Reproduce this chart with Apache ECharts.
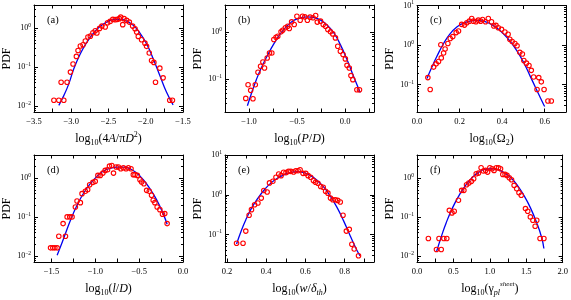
<!DOCTYPE html>
<html><head><meta charset="utf-8">
<script src="https://cdn.jsdelivr.net/npm/echarts@6/dist/echarts.min.js"></script>
<style>html,body{margin:0;padding:0;background:#fff}#c{width:571px;height:300px}</style>
</head><body><div id="c"></div>
<script>
// ---------- data: [log10 x, PDF] ----------
const ptsA = [[-3.233,0.0141],[-3.167,0.0141],[-3.100,0.0141],[-3.136,0.041],[-3.056,0.041],[-3.011,0.0745],[-2.976,0.12],[-2.931,0.188],[-2.909,0.267],[-2.878,0.347],[-2.842,0.374],[-2.811,0.465],[-2.776,0.59],[-2.744,0.62],[-2.709,0.76],[-2.678,0.855],[-2.656,0.745],[-2.62,0.98],[-2.589,1.12],[-2.544,1.06],[-2.513,1.37],[-2.478,1.48],[-2.442,1.67],[-2.411,1.64],[-2.38,1.67],[-2.353,1.74],[-2.336,1.9],[-2.309,1.22],[-2.291,1.74],[-2.256,1.57],[-2.22,1.42],[-2.176,1.12],[-2.144,0.96],[-2.122,0.79],[-2.1,0.61],[-2.056,0.5],[-2.011,0.41],[-1.989,0.34],[-1.953,0.23],[-1.922,0.148],[-1.891,0.132],[-1.869,0.041],[-1.811,0.094],[-1.767,0.053],[-1.678,0.0141],[-1.642,0.0141]];
const fitA = [[-3.167,0.0105],[-3.1,0.0186],[-3.033,0.0372],[-2.967,0.0891],[-2.878,0.22],[-2.789,0.438],[-2.7,0.745],[-2.611,1.104],[-2.522,1.426],[-2.433,1.637],[-2.344,1.667],[-2.256,1.51],[-2.167,1.17],[-2.078,0.745],[-1.989,0.396],[-1.9,0.164],[-1.811,0.0611],[-1.722,0.0229],[-1.633,0.0108]];

const ptsB = [[-1.034,0.0388],[-1.01,0.0756],[-0.983,0.0574],[-0.959,0.0382],[-0.935,0.0756],[-0.907,0.139],[-0.88,0.186],[-0.856,0.23],[-0.839,0.171],[-0.811,0.28],[-0.787,0.357],[-0.763,0.357],[-0.742,0.687],[-0.719,0.77],[-0.701,0.81],[-0.667,1.0],[-0.65,1.085],[-0.622,1.22],[-0.598,1.32],[-0.581,1.18],[-0.557,1.63],[-0.53,1.43],[-0.502,2.15],[-0.468,1.77],[-0.444,2.15],[-0.42,2.08],[-0.393,1.77],[-0.365,2.05],[-0.334,1.99],[-0.307,2.23],[-0.29,1.61],[-0.256,1.69],[-0.228,1.43],[-0.204,1.32],[-0.18,1.12],[-0.153,1.0],[-0.129,0.906],[-0.101,0.745],[-0.077,0.495],[-0.05,0.388],[-0.022,0.33],[0.002,0.267],[0.019,0.195],[0.043,0.171],[0.06,0.118],[0.08,0.097],[0.122,0.059],[0.149,0.059]];
const fitB = [[-1.017,0.0271],[-0.976,0.0488],[-0.924,0.0968],[-0.873,0.171],[-0.804,0.33],[-0.736,0.583],[-0.667,0.953],[-0.599,1.365],[-0.53,1.77],[-0.461,1.986],[-0.393,2.084],[-0.324,2.018],[-0.256,1.77],[-0.187,1.387],[-0.118,0.953],[-0.05,0.537],[0.019,0.258],[0.087,0.114],[0.156,0.052]];

const ptsC = [[0.051,0.151],[0.062,0.0758],[0.078,0.278],[0.09,0.336],[0.101,0.385],[0.114,0.475],[0.112,1.02],[0.125,0.63],[0.132,0.795],[0.145,1.1],[0.156,1.47],[0.168,1.64],[0.184,2.07],[0.195,2.27],[0.21,3.33],[0.223,3.2],[0.234,3.66],[0.246,4.03],[0.257,4.7],[0.265,4.03],[0.277,3.88],[0.288,4.27],[0.299,4.03],[0.308,4.44],[0.322,3.88],[0.335,4.7],[0.35,3.88],[0.361,3.03],[0.371,3.15],[0.382,2.75],[0.397,2.5],[0.413,2.15],[0.428,1.88],[0.436,1.41],[0.447,1.23],[0.46,1.1],[0.47,0.963],[0.483,0.656],[0.495,0.597],[0.502,0.407],[0.514,0.35],[0.526,0.306],[0.537,0.23],[0.548,0.157],[0.564,0.0758],[0.572,0.151],[0.584,0.118],[0.597,0.0758],[0.615,0.0388],[0.631,0.0388]];
const fitC = [[0.047,0.1426],[0.07,0.278],[0.093,0.513],[0.125,1.099],[0.156,1.95],[0.187,2.864],[0.218,3.597],[0.249,4.036],[0.28,4.188],[0.312,4.036],[0.343,3.459],[0.374,2.754],[0.405,1.95],[0.436,1.282],[0.467,0.752],[0.498,0.392],[0.53,0.172],[0.561,0.0759],[0.592,0.034],[0.6,0.0281]];

const ptsD = [[-1.511,0.0163],[-1.485,0.0163],[-1.462,0.0163],[-1.436,0.0163],[-1.417,0.0324],[-1.368,0.0682],[-1.341,0.0324],[-1.322,0.101],[-1.292,0.101],[-1.266,0.101],[-1.228,0.182],[-1.209,0.259],[-1.171,0.234],[-1.152,0.398],[-1.114,0.457],[-1.088,0.504],[-1.065,0.676],[-1.028,0.775],[-1.001,0.822],[-0.971,1.17],[-0.944,1.17],[-0.914,1.34],[-0.888,1.57],[-0.861,1.63],[-0.839,2.02],[-0.812,2.1],[-0.793,1.34],[-0.763,1.91],[-0.737,1.91],[-0.71,1.73],[-0.68,1.84],[-0.65,1.73],[-0.623,1.84],[-0.593,1.73],[-0.567,1.22],[-0.548,1.22],[-0.521,1.17],[-0.491,0.906],[-0.472,0.79],[-0.446,0.717],[-0.415,0.484],[-0.385,0.457],[-0.359,0.361],[-0.34,0.269],[-0.321,0.234],[-0.295,0.182],[-0.264,0.155],[-0.234,0.118],[-0.208,0.123],[-0.181,0.0682]];
const fitD = [[-1.436,0.0106],[-1.398,0.0173],[-1.341,0.0379],[-1.284,0.083],[-1.209,0.2],[-1.133,0.414],[-1.058,0.716],[-0.982,1.104],[-0.907,1.51],[-0.831,1.766],[-0.756,1.91],[-0.68,1.91],[-0.604,1.73],[-0.529,1.343],[-0.453,0.906],[-0.378,0.535],[-0.302,0.28],[-0.227,0.1227],[-0.181,0.0656]];

const ptsE = [[0.249,0.0603],[0.282,0.0603],[0.296,0.122],[0.313,0.306],[0.325,0.423],[0.341,0.563],[0.358,0.621],[0.375,0.826],[0.388,1.28],[0.405,1.17],[0.417,1.99],[0.434,2.19],[0.45,2.75],[0.464,3.33],[0.476,3.03],[0.489,3.67],[0.501,3.6],[0.514,3.88],[0.526,3.88],[0.54,3.74],[0.551,4.03],[0.563,4.03],[0.573,4.27],[0.588,3.46],[0.602,3.46],[0.614,3.03],[0.627,2.75],[0.641,2.27],[0.652,2.07],[0.664,1.95],[0.678,1.61],[0.691,1.55],[0.703,1.23],[0.715,1.1],[0.728,0.826],[0.74,0.751],[0.753,0.751],[0.765,0.723],[0.778,0.657],[0.792,0.306],[0.809,0.122],[0.824,0.135],[0.837,0.0569],[0.849,0.0435],[0.871,0.0292]];
const fitE = [[0.249,0.0579],[0.274,0.129],[0.299,0.252],[0.324,0.448],[0.358,0.826],[0.392,1.358],[0.425,1.991],[0.459,2.649],[0.493,3.206],[0.526,3.664],[0.56,3.811],[0.593,3.597],[0.627,3.027],[0.661,2.275],[0.694,1.552],[0.728,0.91],[0.762,0.474],[0.795,0.221],[0.829,0.0918],[0.862,0.0411],[0.879,0.0292]];

const ptsF = [[0.156,0.0283],[0.267,0.0148],[0.302,0.0283],[0.333,0.0148],[0.369,0.0283],[0.409,0.0283],[0.444,0.149],[0.48,0.128],[0.511,0.141],[0.569,0.269],[0.613,0.484],[0.644,0.484],[0.68,0.676],[0.711,0.745],[0.747,0.822],[0.778,0.962],[0.813,1.29],[0.844,1.34],[0.88,1.84],[0.911,1.51],[0.942,1.57],[0.969,1.42],[1.0,1.84],[1.031,1.73],[1.058,1.57],[1.089,1.84],[1.12,1.84],[1.147,1.73],[1.178,1.24],[1.209,1.24],[1.236,1.17],[1.267,1.02],[1.298,0.906],[1.333,0.65],[1.369,0.534],[1.4,0.422],[1.431,0.361],[1.489,0.165],[1.52,0.141],[1.556,0.101],[1.591,0.083],[1.622,0.0583],[1.644,0.083],[1.689,0.0283],[1.742,0.0283]];
const fitF = [[0.267,0.0129],[0.333,0.0312],[0.4,0.071],[0.489,0.175],[0.578,0.3606],[0.667,0.65],[0.756,1.021],[0.844,1.396],[0.933,1.663],[1.022,1.73],[1.111,1.633],[1.2,1.368],[1.289,1.021],[1.378,0.65],[1.467,0.3606],[1.556,0.175],[1.644,0.071],[1.711,0.03],[1.742,0.0157]];

// ---------- ticks / labels ----------
const ticksA = [-3.5,-3.25,-3,-2.75,-2.5,-2.25,-2,-1.75,-1.5], labelsA = [-3.5,-3,-2.5,-2,-1.5];
const ticksB = [-1.25,-1,-0.75,-0.5,-0.25,0,0.25], labelsB = [-1,-0.5,0];
const ticksC = [0,0.1,0.2,0.3,0.4,0.5,0.6,0.7], labelsC = [0,0.2,0.4,0.6];
const ticksD = [-1.5,-1.25,-1,-0.75,-0.5,-0.25,0], labelsD = [-1.5,-1,-0.5,0];
const ticksE = [0.2,0.3,0.4,0.5,0.6,0.7,0.8,0.9], labelsE = [0.2,0.4,0.6,0.8];
const ticksF = [0,0.25,0.5,0.75,1,1.25,1.5,1.75,2], labelsF = [0,0.5,1,1.5,2];
const panelTags = ['(a)','(b)','(c)','(d)','(e)','(f)'];
const xNames = [
  '{t|log}{sb|10}{t|(4}{it|A}{t|/\u03c0}{it|D}{sp|2}{t|)}',
  '{t|log}{sb|10}{t|(}{it|P}{t|/}{it|D}{t|)}',
  '{t|log}{sb|10}{t|(\u03a9}{sb|2}{t|)}',
  '{t|log}{sb|10}{t|(}{it|l}{t|/}{it|D}{t|)}',
  '{t|log}{sb|10}{t|(}{it|w}{t|/}{it|\u03b4}{sbi|th}{t|)}',
  '{t|log}{sb|10}{t|(\u03b3}{sbi|pl}{spi|sheet}{t|)}'
];

// ---------- layout ----------
const FONT = '"Liberation Serif","Times New Roman",serif';
const W = 149, H = 107;
const panels = [
  {pts:ptsA, fit:fitA, ticks:ticksA, labels:labelsA, xr:[-3.5,-1.5], yr:[-2.15,0.59], left:34, top:5},
  {pts:ptsB, fit:fitB, ticks:ticksB, labels:labelsB, xr:[-1.25,0.3], yr:[-1.70,0.57], left:225, top:5},
  {pts:ptsC, fit:fitC, ticks:ticksC, labels:labelsC, xr:[0,0.7], yr:[-1.69,1.0], left:417, top:5},
  {pts:ptsD, fit:fitD, ticks:ticksD, labels:labelsD, xr:[-1.7,0], yr:[-2.15,0.59], left:34, top:155},
  {pts:ptsE, fit:fitE, ticks:ticksE, labels:labelsE, xr:[0.19,0.95], yr:[-1.69,1.0], left:225, top:155},
  {pts:ptsF, fit:fitF, ticks:ticksF, labels:labelsF, xr:[0,2], yr:[-2.15,0.59], left:417, top:155}
];

function fmtX(v){ return (v < -1e-9 ? '\u2212' : '') + Math.abs(v).toFixed(1); }
function fmtY(v){ const n = Math.round(v); return '{b|10}{s|' + (n < 0 ? '\u2212' : '') + Math.abs(n) + '}'; }
function decades(r){ const a=[]; for(let n=Math.ceil(r[0]-1e-9); n<=r[1]+1e-9; n++) a.push(n); return a; }
function minors(r){ const a=[]; for(let n=Math.floor(r[0]); n<=Math.ceil(r[1]); n++){ for(let k=2;k<=9;k++){ const v=n+Math.log10(k); if(v>=r[0]&&v<=r[1]) a.push(v);} } return a; }

const nameRich = {
  t:{fontFamily:FONT,fontSize:12,lineHeight:16,color:'#000'},
  it:{fontFamily:FONT,fontSize:12,lineHeight:16,fontStyle:'italic',color:'#000'},
  sb:{fontFamily:FONT,fontSize:8,lineHeight:8,verticalAlign:'bottom',color:'#000'},
  sbi:{fontFamily:FONT,fontSize:8,lineHeight:8,verticalAlign:'bottom',fontStyle:'italic',color:'#000'},
  sp:{fontFamily:FONT,fontSize:8,lineHeight:8,verticalAlign:'top',color:'#000'},
  spi:{fontFamily:FONT,fontSize:7,lineHeight:7,verticalAlign:'top',fontStyle:'italic',color:'#000'}
};
const yRich = {
  b:{fontFamily:FONT,fontSize:8,lineHeight:11,color:'#000'},
  s:{fontFamily:FONT,fontSize:5.5,lineHeight:6,verticalAlign:'top',color:'#000'}
};

const grids=[], xAxes=[], yAxes=[], series=[], titles=[];
const lineBlack = {show:true, onZero:false, lineStyle:{color:'#000', width:1}};
const lineNone = {show:false, onZero:false};
panels.forEach((p,i)=>{
  grids.push({left:p.left, top:p.top, width:W, height:H, containLabel:false});
  const xt = {show:true, inside:true, length:3.5, lineStyle:{color:'#000',width:1}, customValues:p.ticks};
  xAxes.push({gridIndex:i, type:'value', position:'bottom', min:p.xr[0], max:p.xr[1], axisLine:lineBlack, splitLine:{show:false}, axisTick:xt,
    axisLabel:{show:true, customValues:p.labels, formatter:fmtX, fontFamily:FONT, fontSize:8.5, color:'#000', margin:5},
    name:xNames[i], nameLocation:'middle', nameGap:19, nameTextStyle:{rich:nameRich}});
  xAxes.push({gridIndex:i, type:'value', position:'top', min:p.xr[0], max:p.xr[1], axisLine:lineBlack, splitLine:{show:false}, axisTick:xt, axisLabel:{show:false}});
  const maj = decades(p.yr), mnr = minors(p.yr);
  const yt = (vals,len)=>({show:true, inside:true, length:len, lineStyle:{color:'#000',width:1}, customValues:vals});
  yAxes.push({gridIndex:i, type:'value', position:'left', min:p.yr[0], max:p.yr[1], axisLine:lineBlack, splitLine:{show:false}, axisTick:yt(maj,4),
    axisLabel:{show:true, customValues:maj, formatter:fmtY, rich:yRich, margin:3},
    name:'PDF', nameLocation:'middle', nameRotate:90, nameGap:21, nameTextStyle:{fontFamily:FONT, fontSize:12, color:'#000'}});
  yAxes.push({gridIndex:i, type:'value', position:'left', min:p.yr[0], max:p.yr[1], axisLine:lineNone, splitLine:{show:false}, axisTick:yt(mnr,2), axisLabel:{show:false}});
  yAxes.push({gridIndex:i, type:'value', position:'right', min:p.yr[0], max:p.yr[1], axisLine:lineBlack, splitLine:{show:false}, axisTick:yt(maj,4), axisLabel:{show:false}});
  yAxes.push({gridIndex:i, type:'value', position:'right', min:p.yr[0], max:p.yr[1], axisLine:lineNone, splitLine:{show:false}, axisTick:yt(mnr,2), axisLabel:{show:false}});
  series.push({type:'line', xAxisIndex:2*i, yAxisIndex:4*i, data:p.fit.map(d=>[d[0], Math.log10(d[1])]), smooth:true, symbol:'none', showSymbol:false,
    lineStyle:{color:'#0000f0', width:1.3}, z:2, silent:true});
  series.push({type:'scatter', xAxisIndex:2*i, yAxisIndex:4*i, data:p.pts.map(d=>[d[0], Math.log10(d[1])]), symbol:'circle', symbolSize:4.5,
    itemStyle:{color:'rgba(0,0,0,0)', borderColor:'#ff0000', borderWidth:1.1, opacity:1}, z:3, silent:true});
  titles.push({text:panelTags[i], left:p.left+13, top:p.top+10, padding:0, textStyle:{fontFamily:FONT, fontSize:10.5, fontWeight:'normal', color:'#000'}});
});

const chart = echarts.init(document.getElementById('c'), null, {renderer:'canvas'});
chart.setOption({animation:false, backgroundColor:'#fff', title:titles, grid:grids, xAxis:xAxes, yAxis:yAxes, series:series});
</script></body></html>
